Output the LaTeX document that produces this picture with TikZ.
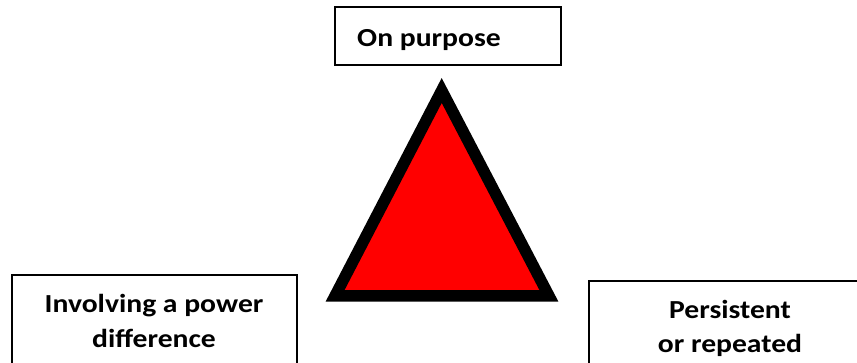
\documentclass[tikz,border=0pt]{standalone}
\usepackage{fontspec}
\setmainfont{Carlito}
\begin{document}
\begin{tikzpicture}[x=1pt,y=1pt,
  box/.style={draw=black,line width=1.3pt,fill=white},
  lbl/.style={font=\fontsize{26}{34}\selectfont\bfseries,inner sep=0pt,align=center,xscale=1.14,transform shape},
  tri/.style={draw=black,fill=red,line width=11.5pt,line join=miter}]
\useasboundingbox (0,0) rectangle (857,363);
\clip (0,0) rectangle (857,363);
% top box
\draw[box] (335,{363-7}) rectangle (561,{363-65});
\node[lbl,anchor=base west] (top) at (357,{363-47}) {On purpose};
% left box
\draw[box] (12,{363-275}) rectangle (297,-40);
\node[lbl,anchor=base] (l1) at (154,{363-313}) {Involving a power};
\node[lbl,anchor=base] (l2) at (154,{363-348}) {difference};
% right box
\draw[box] (589,{363-281}) rectangle (900,-40);
\node[lbl,anchor=base] (r1) at (730,{363-319}) {Persistent};
\node[lbl,anchor=base] (r2) at (730,{363-353}) {or repeated};
% triangle
\coordinate (A) at (441.7,{363-90.5});
\coordinate (B) at (335,{363-296});
\coordinate (C) at (549,{363-296});
\draw[tri] (A) -- (B) -- (C) -- cycle;
\end{tikzpicture}
\end{document}
